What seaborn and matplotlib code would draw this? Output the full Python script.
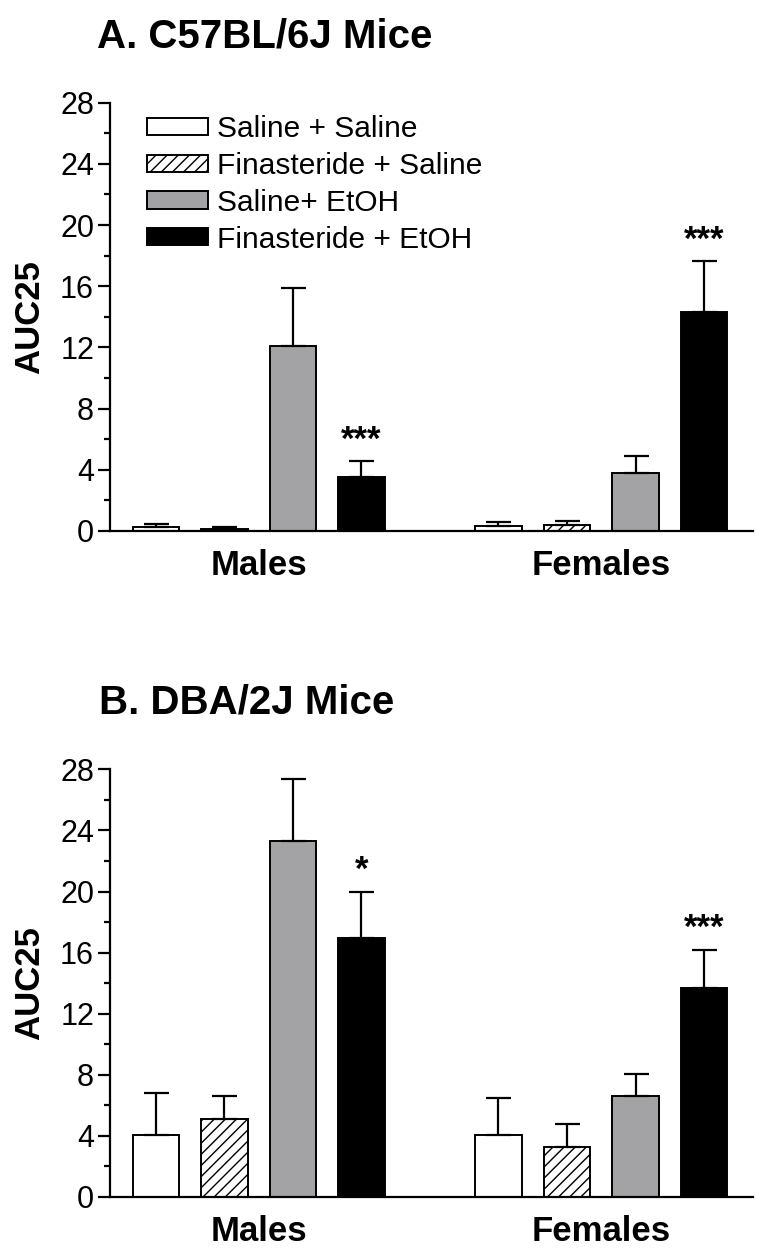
import numpy as np
import pandas as pd
import seaborn as sns
import matplotlib.pyplot as plt
from matplotlib.ticker import MultipleLocator

# Veriler (grafikten okunan ortalama ve SEM degerleri)
sexes = ["Males", "Females"]
groups = ["Saline + Saline", "Finasteride + Saline", "Saline+ EtOH", "Finasteride + EtOH"]

c57_males = [0.26, 0.15, 12.1, 3.53]
c57_females = [0.33, 0.39, 3.8, 14.33]
c57_males_sem = [0.18, 0.1, 3.8, 1.05]
c57_females_sem = [0.28, 0.26, 1.07, 3.32]
c57_stars = ["", "", "", "***", "", "", "", "***"]

dba_males = [4.05, 5.08, 23.3, 16.93]
dba_females = [4.07, 3.26, 6.62, 13.68]
dba_males_sem = [2.75, 1.52, 4.06, 3.06]
dba_females_sem = [2.39, 1.51, 1.41, 2.52]
dba_stars = ["", "", "", "*", "", "", "", "***"]

panel_titles = ["A. C57BL/6J Mice", "B. DBA/2J Mice"]
y_ticks = [0, 4, 8, 12, 16, 20, 24, 28]

bar_colors = ["white", "white", "#a2a2a6", "black"]

sns.set_theme(style="ticks")
plt.rcParams["font.family"] = ["Liberation Sans", "DejaVu Sans"]
plt.rcParams["hatch.linewidth"] = 1.0
plt.rcParams["axes.linewidth"] = 1.6
for key in ["text.color", "axes.edgecolor", "axes.labelcolor", "xtick.color", "ytick.color"]:
    plt.rcParams[key] = "black"


def make_df(males, females, males_sem, females_sem):
    rows = []
    for sex, vals, sems in [("Males", males, males_sem), ("Females", females, females_sem)]:
        for g, v, s in zip(groups, vals, sems):
            rows.append({"sex": sex, "group": g, "auc": v, "sem": s})
    return pd.DataFrame(rows)


def draw_panel(ax, df, stars, legend=False):
    sns.barplot(data=df, x="sex", y="auc", hue="group", order=sexes, hue_order=groups,
                palette=bar_colors, errorbar=None, width=0.8, gap=0.32,
                edgecolor="black", linewidth=1.4, legend=False, ax=ax)

    bar_conts = list(ax.containers)

    # hatch + hata cubuklari (sadece ust)
    for i, cont in enumerate(bar_conts):
        for j, bar in enumerate(cont):
            if i == 1:
                bar.set_hatch("///")
            sem = df[(df["group"] == groups[i]) & (df["sex"] == sexes[j])]["sem"].values[0]
            x = bar.get_x() + bar.get_width() / 2
            h = bar.get_height()
            ax.errorbar(x, h, yerr=[[0], [sem]], fmt="none", ecolor="black",
                        elinewidth=1.6, capsize=9, capthick=1.6, zorder=1)
            star = stars[j * 4 + i]
            if star:
                ax.text(x, h + sem + 0.75, star, ha="center", va="baseline",
                        fontsize=25, fontweight="bold")

    ax.set_ylim(0, 28)
    ax.set_xlim(-0.434, 1.442)
    ax.set_yticks(y_ticks)
    ax.yaxis.set_minor_locator(MultipleLocator(2))
    ax.tick_params(axis="y", which="major", labelsize=22, length=8.5, width=1.6, pad=3)
    ax.tick_params(axis="y", which="minor", length=4.5, width=1.6)
    ax.tick_params(axis="x", length=0, pad=13)
    for lab in ax.get_xticklabels():
        lab.set_fontsize(25)
        lab.set_fontweight("bold")
    ax.set_xlabel("")
    ax.set_ylabel("AUC25", fontsize=25, fontweight="bold", labelpad=10)
    sns.despine(ax=ax)

    if legend:
        handles = [cont[0] for cont in bar_conts]
        ax.legend(handles, groups, loc="upper left", bbox_to_anchor=(0.0576, 0.972),
                  frameon=False, fontsize=21.5, handlelength=2.05, handleheight=0.5,
                  handletextpad=0.3, labelspacing=0.3, borderpad=0, borderaxespad=0)


fig = plt.figure(figsize=(7.64, 12.6), dpi=100)
ax1 = fig.add_axes([0.144, 0.5786, 0.8412, 0.3399])
ax2 = fig.add_axes([0.144, 0.05, 0.8412, 0.3394])

draw_panel(ax1, make_df(c57_males, c57_females, c57_males_sem, c57_females_sem), c57_stars, legend=True)
draw_panel(ax2, make_df(dba_males, dba_females, dba_males_sem, dba_females_sem), dba_stars)

fig.text(97 / 764, 1 - 48 / 1260, panel_titles[0], fontsize=29, fontweight="bold", va="baseline")
fig.text(99 / 764, 1 - 713 / 1260, panel_titles[1], fontsize=29, fontweight="bold", va="baseline")

fig.savefig("out.png", dpi=100)
